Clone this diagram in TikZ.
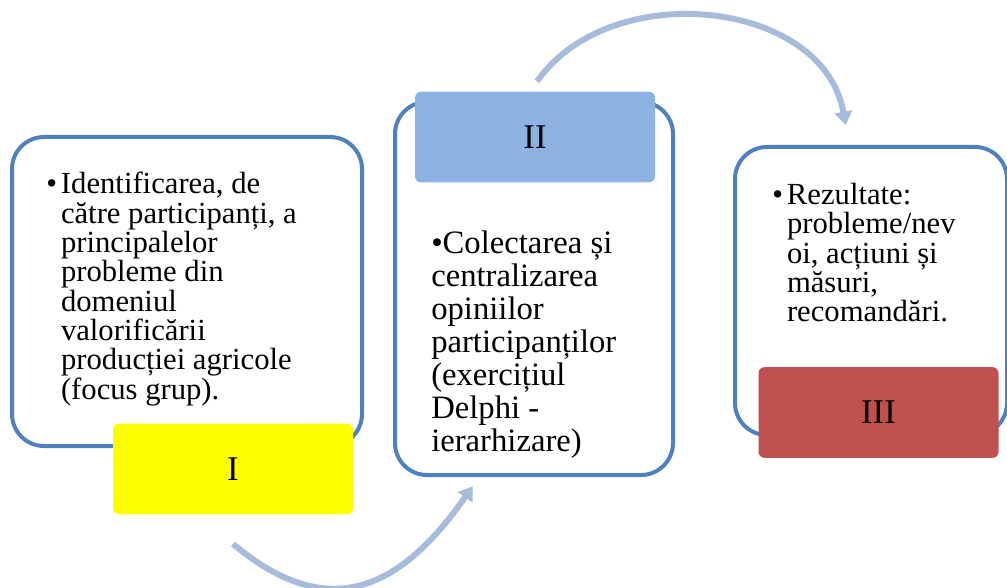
\documentclass[tikz,border=0pt]{standalone}
\usepackage{fontspec}
\setmainfont{Liberation Serif}
\usetikzlibrary{arrows.meta}
\definecolor{lineblue}{RGB}{79,129,189}
\definecolor{arcblue}{RGB}{167,187,219}
\definecolor{tagyellow}{RGB}{255,255,0}
\definecolor{tagblue}{RGB}{141,179,226}
\definecolor{tagred}{RGB}{192,80,77}
\newcommand{\hangpad}{\phantom{•}\hspace{3pt}}

\begin{document}
\begin{tikzpicture}[
  x = 0.75pt,
  y = -0.75pt,
  stage/.style = {
    draw = lineblue,
    line width = 3pt,
    rectangle,
    rounded corners = 24pt,
    fill = white,
  },
  tag/.style = {
    rectangle,
    rounded corners = 4.5pt,
    minimum width = 180pt,
    minimum height = 68pt,
    font = \fontsize{26}{26}\selectfont,
  },
  txt/.style = {
    align = left,
    anchor = north west,
    inner sep = 0pt,
    font = \fontsize{23}{22}\selectfont,
  },
  bow/.style = {
    draw = arcblue,
    line width = 4.5pt,
    -{Triangle[length=10pt,width=13pt]},
  },
]

  \useasboundingbox (0,0) rectangle (1007,588);
  \clip (0,0) rectangle (1007,588);

  % outlines
  \node[stage, minimum width=262.5pt, minimum height=231.75pt] (box1) at (187,291.5) {};
  \node[stage, minimum width=208.5pt, minimum height=279.75pt] (box2) at (534,288.5) {};
  \node[stage, minimum width=204pt, minimum height=216pt] (box3) at (871,291) {};

  % stage tags
  \node[tag, fill=tagyellow] (lab1) at (233,469) {I};
  \node[tag, fill=tagblue] (lab2) at (535,137) {II};
  \node[tag, fill=tagred] (lab3) at (878.5,412.5) {III};

  % texts
  \node[txt] (t1) at (46,172) {•\hspace{3pt}Identificarea, de\\
    \hangpad către participanți, a\\
    \hangpad principalelor\\
    \hangpad probleme din\\
    \hangpad domeniul\\
    \hangpad valorificării\\
    \hangpad producției agricole\\
    \hangpad (focus grup).};
  \node[txt, font=\fontsize{24.5}{24.75}\selectfont] (t2) at (431,231) {•Colectarea și\\
    centralizarea\\
    opiniilor\\
    participanților\\
    (exercițiul\\
    Delphi -\\
    ierarhizare)};
  \node[txt] (t3) at (772,183) {•\hspace{3pt}Rezultate:\\
    \hangpad probleme/nev\\
    \hangpad oi, acțiuni și\\
    \hangpad măsuri,\\
    \hangpad recomandări.};

  % arrows between stages
  \draw[bow] ([yshift=-22pt]lab1.south) to[out=-40,in=-125,looseness=1.3] ([xshift=-46pt,yshift=-7pt]box2.south);
  \draw[bow] ([xshift=1.5pt,yshift=7.5pt]lab2.north) to[out=55,in=100,looseness=1.05] ([xshift=-19pt,yshift=15pt]box3.north);

\end{tikzpicture}
\end{document}
